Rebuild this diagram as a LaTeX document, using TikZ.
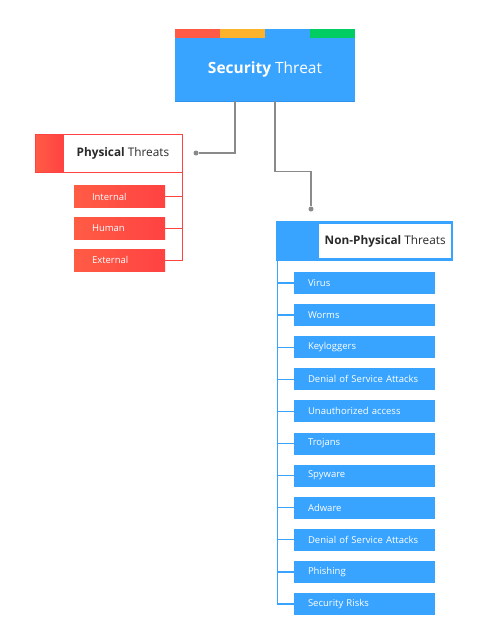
\documentclass[tikz,border=0pt]{standalone}
\usepackage{fontspec}
\setmainfont{Open Sans}
\usetikzlibrary{positioning}
\definecolor{thblue}{HTML}{38A4FF}
\definecolor{thbluedk}{HTML}{2F93F0}
\definecolor{thred}{HTML}{FF4242}
\definecolor{thredl}{HTML}{FF5C45}
\definecolor{barred}{HTML}{FF5A45}
\definecolor{barorange}{HTML}{FDB22B}
\definecolor{bargreen}{HTML}{02CD63}
\definecolor{linkgray}{HTML}{8A8A8A}
\definecolor{headtext}{HTML}{2A2A2A}
\tikzset{
    mainbox/.style = {rectangle, fill=thblue, minimum width=180pt, minimum height=63pt, inner sep=0pt, text=white, font=\fontsize{15.5}{18}\selectfont},
    capr/.style = {rectangle, draw=thred, left color=thredl, right color=thred, minimum width=28pt, minimum height=38pt, inner sep=0pt},
    capb/.style = {rectangle, draw=thblue, fill=thblue, minimum width=39pt, minimum height=38pt, inner sep=0pt},
    headr/.style = {rectangle, draw=thred, fill=white, minimum width=119pt, minimum height=38pt, inner sep=0pt, text=headtext, font=\fontsize{11.8}{14}\selectfont},
    headb/.style = {rectangle, draw=thblue, line width=2pt, fill=white, minimum width=134pt, minimum height=36pt, inner sep=0pt, text=headtext, font=\fontsize{11.8}{14}\selectfont},
    itemr/.style = {rectangle, left color=thredl, right color=thred, minimum height=22pt, inner xsep=18pt, inner ysep=0pt, text width=55pt, align=left, text=white, font=\fontsize{9.5}{11}\selectfont},
    itemb/.style = {rectangle, fill=thblue, minimum height=22pt, inner xsep=14pt, inner ysep=0pt, text width=113pt, align=left, text=white, font=\fontsize{9.5}{11}\selectfont},
    linkg/.style = {-, line width=1.3pt, linkgray},
    linkr/.style = {-, line width=1pt, thred},
    linkb/.style = {-, line width=1.3pt, thblue},
    dotg/.style = {circle, fill=linkgray, inner sep=0pt, minimum size=5pt}
}
\begin{document}
\begin{tikzpicture}[x=1pt, y=-1pt]
  \useasboundingbox (0,0) rectangle (499,637);
  % top
  \node[mainbox] (threat) at (265,69.5) {\textbf{Security} Threat};
  \foreach \c [count=\i from 0] in {barred,barorange,thblue,bargreen}
    \fill[\c] ([xshift=\i*45pt]threat.north west) rectangle ++(45,-9);
  \draw[thbluedk, line width=1.2pt] (threat.south west) -- (threat.south east);

  % physical
  \node[capr] (physcap) at (49,153) {};
  \node[headr, right=0pt of physcap] (phys) {\textbf{Physical} Threats};
  \node[itemr] (internal) at (119.5,196.5) {Internal};
  \node[itemr, below=9.5pt of internal] (human) {Human};
  \node[itemr, below=9.5pt of human] (external) {External};
  \draw[linkr] (phys.south east) |- (external.east);
  \draw[linkr] (internal.east) -- (internal.east -| phys.east);
  \draw[linkr] (human.east) -- (human.east -| phys.east);

  % non-physical
  \node[capb] (npcap) at (296.5,241) {};
  \node[headb, right=1pt of npcap] (nonphys) {\textbf{Non-Physical} Threats};
  \draw[thblue, line width=1pt] (npcap.north west) rectangle (nonphys.south east -| 452,0);
  \node[itemb] (virus) at (364.5,283) {Virus};
  \node[itemb, below=9.7pt of virus] (worms) {Worms};
  \node[itemb, below=9.7pt of worms] (keylog) {Keyloggers};
  \node[itemb, below=9.7pt of keylog] (dos) {Denial of Service Attacks};
  \node[itemb, below=9.7pt of dos] (unauth) {Unauthorized access};
  \node[itemb, below=9.7pt of unauth] (trojans) {Trojans};
  \node[itemb, below=9.7pt of trojans] (spyware) {Spyware};
  \node[itemb, below=9.7pt of spyware] (adware) {Adware};
  \node[itemb, below=9.7pt of adware] (dosb) {Denial of Service Attacks};
  \node[itemb, below=9.7pt of dosb] (phishing) {Phishing};
  \node[itemb, below=9.7pt of phishing] (risks) {Security Risks};
  \draw[linkb] ([xshift=1pt]npcap.south west) |- (risks.west);
  \foreach \n in {virus,worms,keylog,dos,unauth,trojans,spyware,adware,dosb,phishing}
    \draw[linkb] (\n.west) -- ([xshift=1pt]\n.west -| npcap.west);

  % links from top
  \node[dotg] (pdot) at (196,153) {};
  \node[dotg] (npdot) at (311,209) {};
  \draw[linkg] ([xshift=-30pt]threat.south) |- (pdot);
  \draw[linkg] ([xshift=10pt]threat.south) -- ++(0,70) -| (npdot);
\end{tikzpicture}
\end{document}
